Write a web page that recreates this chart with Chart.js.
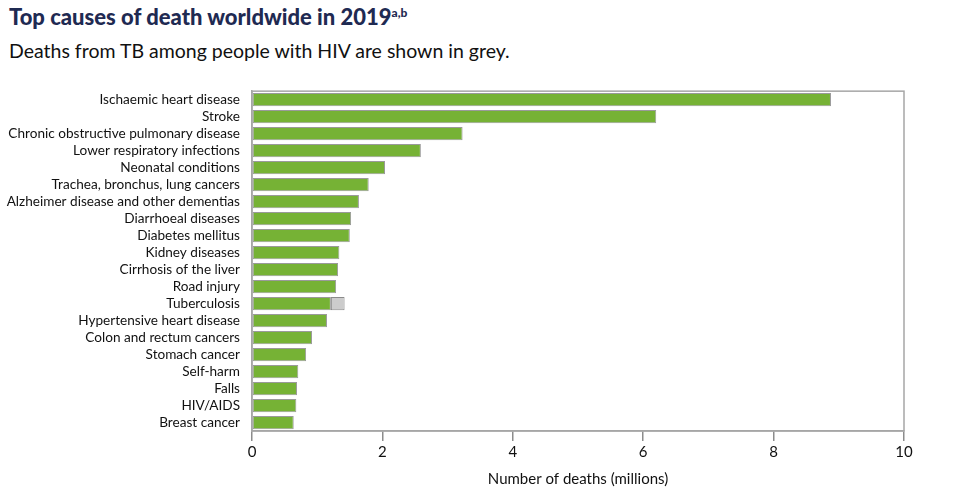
<!DOCTYPE html>
<html>
<head>
<meta charset="utf-8">
<script src="https://cdn.jsdelivr.net/npm/chart.js@4"></script>
<style>
  html, body { margin: 0; padding: 0; background: #fff; }
  body { width: 972px; height: 499px; position: relative; overflow: hidden; font-family: Lato, sans-serif; }
  h1 { position: absolute; left: 9px; top: 3px; margin: 0; font-size: 22px; font-weight: 900; color: #1f2a52; white-space: nowrap; }
  h1 sup { font-size: 12px; }
  .sub { position: absolute; left: 9px; top: 39px; margin: 0; font-size: 19.5px; color: #111; white-space: nowrap; }
  #wrap { position: absolute; left: 0; top: 71px; width: 972px; height: 428px; }
</style>
</head>
<body>
<h1>Top causes of death worldwide in 2019<sup>a,b</sup></h1>
<p class="sub">Deaths from TB among people with HIV are shown in grey.</p>
<div id="wrap"><canvas id="chart"></canvas></div>
<script>
// causes of death, top to bottom
const causes = [
  'Ischaemic heart disease', 'Stroke', 'Chronic obstructive pulmonary disease',
  'Lower respiratory infections', 'Neonatal conditions', 'Trachea, bronchus, lung cancers',
  'Alzheimer disease and other dementias', 'Diarrhoeal diseases', 'Diabetes mellitus',
  'Kidney diseases', 'Cirrhosis of the liver', 'Road injury', 'Tuberculosis',
  'Hypertensive heart disease', 'Colon and rectum cancers', 'Stomach cancer',
  'Self-harm', 'Falls', 'HIV/AIDS', 'Breast cancer'
];
// deaths in millions (green part)
const deaths = [8.88, 6.20, 3.23, 2.59, 2.04, 1.79, 1.64, 1.52, 1.50, 1.34,
                1.32, 1.29, 1.21, 1.15, 0.92, 0.83, 0.71, 0.69, 0.68, 0.64];
// TB deaths among people with HIV (grey part), only for Tuberculosis
const tbHivDeaths = [null, null, null, null, null, null, null, null, null, null,
                     null, null, 0.21, null, null, null, null, null, null, null];
const xTicks = [0, 2, 4, 6, 8, 10];

const LEFT = 252;

// grey frame round the plot area
const frame = {
  id: 'frame',
  beforeDatasetsDraw(chart) {
    const { ctx, chartArea: a } = chart;
    ctx.save();
    ctx.strokeStyle = '#a6a6a6';
    ctx.lineWidth = 1.5;
    ctx.strokeRect(a.left, a.top, a.right - a.left, a.bottom - a.top);
    ctx.restore();
  }
};

new Chart(document.getElementById('chart'), {
  type: 'bar',
  data: {
    labels: causes,
    datasets: [
      {
        data: deaths,
        backgroundColor: '#76b235',
        borderColor: '#9a9a9a',
        borderWidth: 1,
        borderSkipped: false,
        barPercentage: 0.78,
        categoryPercentage: 1
      },
      {
        data: tbHivDeaths,
        backgroundColor: '#cccccc',
        borderColor: '#8a8a8a',
        borderWidth: 1,
        borderSkipped: false,
        barPercentage: 0.78,
        categoryPercentage: 1
      }
    ]
  },
  options: {
    indexAxis: 'y',
    responsive: true,
    maintainAspectRatio: false,
    animation: false,
    layout: { padding: { top: 4, right: 68, bottom: 5, left: 0 } },
    plugins: {
      legend: { display: false },
      tooltip: { enabled: false }
    },
    scales: {
      x: {
        stacked: true,
        min: 0,
        max: 10,
        afterBuildTicks(scale) { scale.ticks = xTicks.map(v => ({ value: v })); },
        grid: { drawOnChartArea: false, drawTicks: true, tickLength: 10, color: '#8c8c8c', lineWidth: 1.5 },
        border: { display: true, color: '#a6a6a6', width: 1.5 },
        ticks: { color: '#111', font: { family: 'Lato', size: 15 }, padding: 2, maxRotation: 0 },
        title: {
          display: true,
          text: 'Number of deaths (millions)',
          color: '#111',
          font: { family: 'Lato', size: 15 },
          padding: { top: 7, bottom: 6 }
        }
      },
      y: {
        stacked: true,
        afterFit(scale) { scale.width = LEFT; },
        grid: { display: false, drawTicks: false, tickLength: 0 },
        border: { display: true, color: '#a6a6a6', width: 1.5 },
        ticks: { color: '#111', font: { family: 'Lato', size: 13.6 }, padding: 12, autoSkip: false }
      }
    }
  },
  plugins: [frame]
});
</script>
</body>
</html>
